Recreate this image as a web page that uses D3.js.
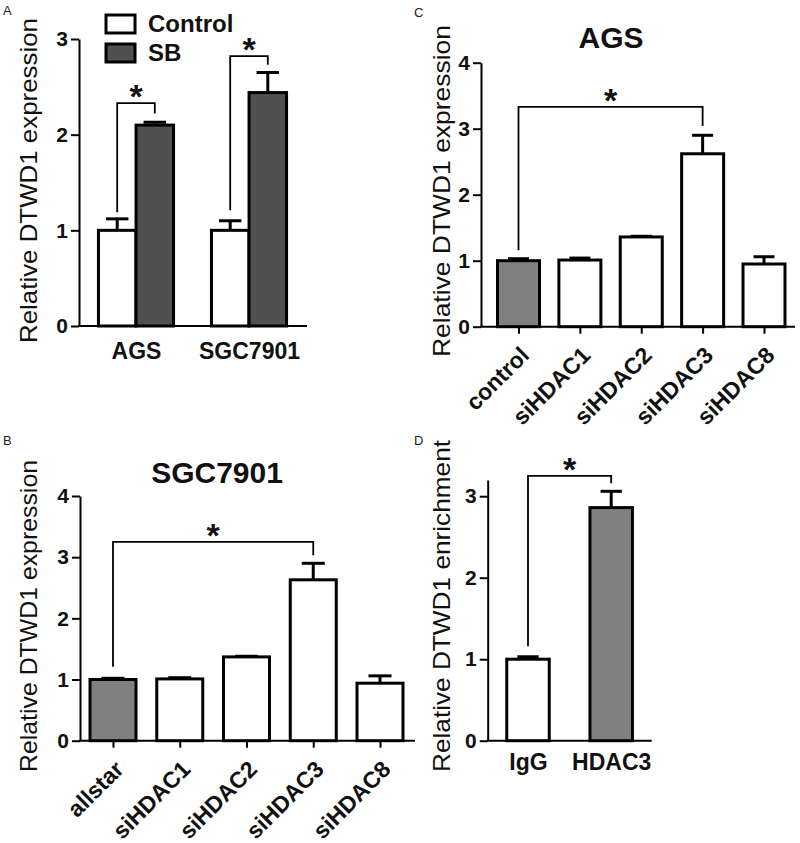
<!DOCTYPE html>
<html><head><meta charset="utf-8">
<script src="https://cdn.jsdelivr.net/npm/d3@7"></script>
<style>body{margin:0;background:#fff}svg{display:block}</style>
</head><body><svg id="c" width="800" height="843"></svg>
<script>
// ---------- DATA ----------
// Panel A (grouped)
const aGroups = ["AGS", "SGC7901"];
const aSeries = ["Control", "SB"];
const aControl = [1.00, 1.00];
const aControlErr = [0.12, 0.10];
const aSB = [2.10, 2.44];
const aSBErr = [0.03, 0.21];
const aTicks = [0, 1, 2, 3];
const aSigLeft = [1.19, 1.21];
const aSigTop = [2.33, 2.82];
const aSigRight = [2.22, 2.73];
// Panel B
const bTitle = "SGC7901";
const bCats = ["allstar", "siHDAC1", "siHDAC2", "siHDAC3", "siHDAC8"];
const bVals = [1.00, 1.01, 1.37, 2.63, 0.94];
const bErrs = [0.02, 0.02, 0.01, 0.27, 0.12];
const bTicks = [0, 1, 2, 3, 4];
const bSig = ["allstar", "siHDAC3", 1.21, 3.25, 3.03];
// Panel C
const cTitle = "AGS";
const cCats = ["control", "siHDAC1", "siHDAC2", "siHDAC3", "siHDAC8"];
const cVals = [1.00, 1.01, 1.36, 2.62, 0.95];
const cErrs = [0.03, 0.03, 0.01, 0.28, 0.11];
const cTicks = [0, 1, 2, 3, 4];
const cSig = ["control", "siHDAC3", 1.16, 3.33, 3.04];
// Panel D
const dCats = ["IgG", "HDAC3"];
const dVals = [1.00, 2.86];
const dErrs = [0.03, 0.20];
const dTicks = [0, 1, 2, 3];
const dSig = ["IgG", "HDAC3", 1.16, 3.25, 3.16];

// ---------- DRAWING ----------
const FONT = "'Liberation Sans', Arial, Helvetica, sans-serif";
const svg = d3.select("#c");
const GREY = "#808080", DARK = "#505050";

function yAxis(y, ticks, ax) {
  const g = svg.append("g").attr("transform", `translate(${ax},0)`)
    .call(d3.axisLeft(y).tickValues(ticks).tickFormat(d3.format("d"))
      .tickSize(8).tickSizeOuter(0).tickPadding(3));
  g.attr("font-family", FONT).attr("font-size", 21).attr("font-weight", "bold");
  g.select(".domain").attr("stroke", "#000").attr("stroke-width", 2);
  g.selectAll(".tick line").attr("stroke", "#000").attr("stroke-width", 2);
  g.selectAll(".tick text").attr("fill", "#111");
  return g;
}
function baseline(y, ax, axEnd) {
  svg.append("line").attr("x1", ax - 1).attr("x2", axEnd)
    .attr("y1", y(0)).attr("y2", y(0)).attr("stroke", "#000").attr("stroke-width", 2);
}
function yTitle(text, bx, cy, len) {
  svg.append("text").text(text)
    .attr("transform", `translate(${bx},${cy}) rotate(-90)`)
    .attr("text-anchor", "middle").attr("font-family", FONT).attr("font-size", 24)
    .attr("fill", "#111")
    .attr("textLength", len).attr("lengthAdjust", "spacingAndGlyphs");
}
function panelLabel(t, x, y) {
  svg.append("text").text(t).attr("x", x).attr("y", y)
    .attr("font-family", FONT).attr("font-size", 13).attr("fill", "#222");
}
function title(t, x, y) {
  svg.append("text").text(t).attr("x", x).attr("y", y).attr("text-anchor", "middle")
    .attr("font-family", FONT).attr("font-size", 30).attr("font-weight", "bold").attr("fill", "#111");
}
function drawBars(items, y, w, capRatio) {
  const g = svg.append("g");
  g.selectAll("rect").data(items).join("rect")
    .attr("x", d => d.cx - w / 2).attr("y", d => y(d.v))
    .attr("width", w).attr("height", d => y(0) - y(d.v))
    .attr("fill", d => d.fill).attr("stroke", "#000").attr("stroke-width", 3);
  g.selectAll("line.ev").data(items).join("line").attr("class", "ev")
    .attr("x1", d => d.cx).attr("x2", d => d.cx)
    .attr("y1", d => y(d.v)).attr("y2", d => y(d.v + d.e))
    .attr("stroke", "#000").attr("stroke-width", 3);
  g.selectAll("line.cap").data(items).join("line").attr("class", "cap")
    .attr("x1", d => d.cx - w * capRatio / 2).attr("x2", d => d.cx + w * capRatio / 2)
    .attr("y1", d => y(d.v + d.e)).attr("y2", d => y(d.v + d.e))
    .attr("stroke", "#000").attr("stroke-width", 3);
}
function bracket(x1, x2, y, l, t, r) {
  const p = d3.path();
  p.moveTo(x1, y(l)); p.lineTo(x1, y(t)); p.lineTo(x2, y(t)); p.lineTo(x2, y(r));
  svg.append("path").attr("d", p.toString()).attr("fill", "none")
    .attr("stroke", "#000").attr("stroke-width", 1.8);
  svg.append("text").text("*").attr("x", (x1 + x2) / 2).attr("y", y(t) + 5)
    .attr("text-anchor", "middle").attr("font-family", FONT)
    .attr("font-size", 34).attr("font-weight", "bold").attr("fill", "#111");
}
function rotatedXAxis(x, y) {
  const g = svg.append("g").attr("transform", `translate(0,${y(0)})`)
    .call(d3.axisBottom(x).tickSize(7).tickSizeOuter(0));
  g.attr("font-family", FONT).attr("font-size", 23).attr("font-weight", "bold");
  g.select(".domain").remove();
  g.selectAll(".tick line").attr("stroke", "#000").attr("stroke-width", 2);
  g.selectAll(".tick text").attr("fill", "#111").attr("y", 0).attr("dy", 0)
    .attr("text-anchor", "end").attr("transform", "translate(11.5,30) rotate(-45)");
}
function flatXAxis(x, y, pad) {
  const g = svg.append("g").attr("transform", `translate(0,${y(0)})`)
    .call(d3.axisBottom(x).tickSize(0).tickSizeOuter(0).tickPadding(pad));
  g.attr("font-family", FONT).attr("font-size", 23).attr("font-weight", "bold");
  g.select(".domain").remove();
  g.selectAll(".tick text").attr("fill", "#111");
}

// ----- Panel A -----
{
  const y = d3.scaleLinear().domain([0, 3]).range([326, 39]);
  const x = d3.scalePoint().domain(aGroups).range([136, 249]);
  const off = d3.scalePoint().domain(aSeries).range([-18.8, 18.8]);
  const W = 37.5;
  baseline(y, 79, 307);
  yAxis(y, aTicks, 79);
  const items = [];
  aGroups.forEach((gname, i) => {
    items.push({ cx: x(gname) + off("Control"), v: aControl[i], e: aControlErr[i], fill: "#fff" });
    items.push({ cx: x(gname) + off("SB"), v: aSB[i], e: aSBErr[i], fill: DARK });
  });
  drawBars(items, y, W, 0.6);
  aGroups.forEach((gname, i) => {
    bracket(x(gname) + off("Control"), x(gname) + off("SB"), y, aSigLeft[i], aSigTop[i], aSigRight[i]);
  });
  flatXAxis(x, y, 17);
  yTitle("Relative DTWD1 expression", 36.7, 180.5, 325);
  const lg = svg.append("g");
  const fills = ["#fff", DARK];
  const ly = [15, 44];
  aSeries.forEach((s, i) => {
    lg.append("rect").attr("x", 106).attr("y", ly[i]).attr("width", 29).attr("height", 18)
      .attr("fill", fills[i]).attr("stroke", "#000").attr("stroke-width", 3);
    lg.append("text").text(s).attr("x", 148).attr("y", ly[i] + 17)
      .attr("font-family", FONT).attr("font-size", 24).attr("font-weight", "bold").attr("fill", "#111");
  });
  panelLabel("A", 3, 15);
}

// ----- Panel B -----
{
  const y = d3.scaleLinear().domain([0, 4]).range([740.7, 496]);
  const x = d3.scalePoint().domain(bCats).range([113, 380]);
  baseline(y, 80, 415);
  yAxis(y, bTicks, 80);
  drawBars(bCats.map((c, i) => ({ cx: x(c), v: bVals[i], e: bErrs[i], fill: i === 0 ? GREY : "#fff" })), y, 46, 0.5);
  bracket(x(bSig[0]), x(bSig[1]), y, bSig[2], bSig[3], bSig[4]);
  rotatedXAxis(x, y);
  title(bTitle, 217, 483);
  yTitle("Relative DTWD1 expression", 36.7, 616, 312);
  panelLabel("B", 3, 445);
}

// ----- Panel C -----
{
  const y = d3.scaleLinear().domain([0, 4]).range([326.7, 62.7]);
  const x = d3.scalePoint().domain(cCats).range([518.5, 764]);
  baseline(y, 481, 795);
  yAxis(y, cTicks, 481);
  drawBars(cCats.map((c, i) => ({ cx: x(c), v: cVals[i], e: cErrs[i], fill: i === 0 ? GREY : "#fff" })), y, 42, 0.5);
  bracket(x(cSig[0]), x(cSig[1]), y, cSig[2], cSig[3], cSig[4]);
  rotatedXAxis(x, y);
  title(cTitle, 611, 48);
  yTitle("Relative DTWD1 expression", 450, 191, 332);
  panelLabel("C", 414, 17);
}

// ----- Panel D -----
{
  const y = d3.scaleLinear().domain([0, 3.2]).range([740.7, 479.9]);
  const x = d3.scalePoint().domain(dCats).range([528, 611.2]);
  baseline(y, 487.7, 651.7);
  yAxis(y, dTicks, 487.7);
  drawBars(dCats.map((c, i) => ({ cx: x(c), v: dVals[i], e: dErrs[i], fill: i === 1 ? GREY : "#fff" })), y, 42.5, 0.5);
  bracket(x(dSig[0]), x(dSig[1]), y, dSig[2], dSig[3], dSig[4]);
  flatXAxis(x, y, 12.5);
  yTitle("Relative DTWD1 enrichment", 450, 606, 332);
  panelLabel("D", 414, 445);
}
</script></body></html>
